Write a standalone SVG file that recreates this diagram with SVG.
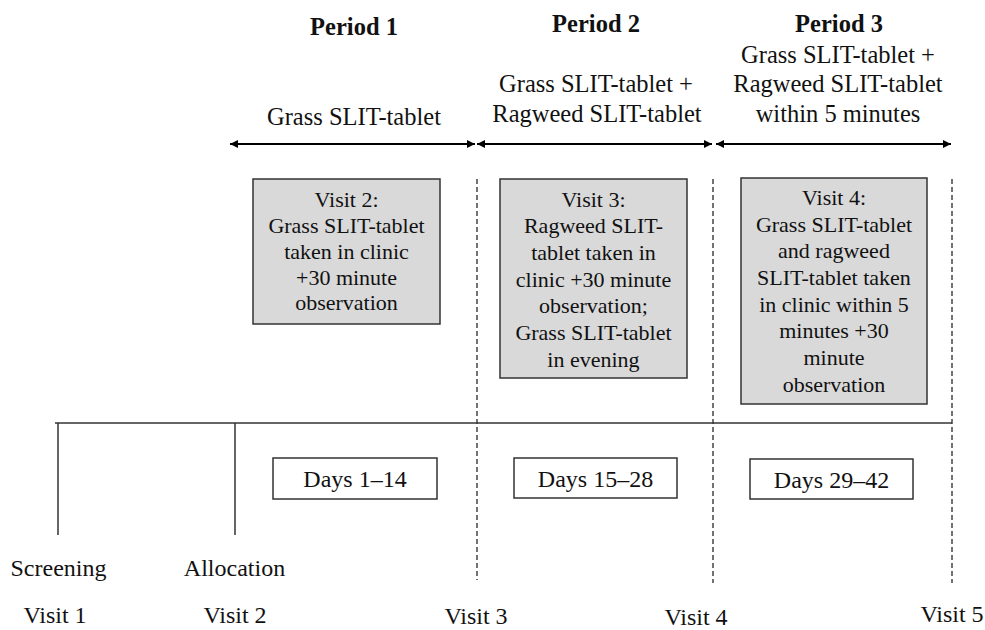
<svg xmlns="http://www.w3.org/2000/svg" width="985" height="630" viewBox="0 0 985 630">
<defs>
<marker id="ah" viewBox="0 0 10 10" refX="10" refY="5" markerWidth="10" markerHeight="8" markerUnits="userSpaceOnUse" orient="auto-start-reverse">
<path d="M0,0 L10,5 L0,10 z" fill="#000"/>
</marker>
<style>
text{fill:#111;text-anchor:middle}
.h{font-size:24.5px;font-weight:bold}
.t{font-size:24.5px}
.b{font-size:22px}
.s{font-size:24px}
.gbox{fill:#d9d9d9;stroke:#333;stroke-width:1.5}
.dbox{fill:#fff;stroke:#333;stroke-width:1.5}
.arr{stroke:#000;stroke-width:2;fill:none}
.dash{stroke:#444;stroke-width:1.5;stroke-dasharray:5 3;fill:none}
.sol{stroke:#333;stroke-width:1.5;fill:none}
</style>
</defs>
<g font-family="'Liberation Serif', Tinos, 'DejaVu Serif', 'Times New Roman', serif">
<g id="headers">
<text class="h" x="354" y="35">Period 1</text>
<text class="h" x="596" y="32">Period 2</text>
<text class="h" x="839" y="32">Period 3</text>
<text class="t" x="354" y="125">Grass SLIT-tablet</text>
<text class="t" x="596" y="92">Grass SLIT-tablet +</text>
<text class="t" x="597" y="122">Ragweed SLIT-tablet</text>
<text class="t" x="838" y="63">Grass SLIT-tablet +</text>
<text class="t" x="838" y="92">Ragweed SLIT-tablet</text>
<text class="t" x="838" y="122">within 5 minutes</text>
</g>
<g id="connectors">
<line class="arr" x1="230" y1="144" x2="475" y2="144" marker-start="url(#ah)" marker-end="url(#ah)"/>
<line class="arr" x1="477" y1="144" x2="712" y2="144" marker-start="url(#ah)" marker-end="url(#ah)"/>
<line class="arr" x1="716" y1="144" x2="951" y2="144" marker-start="url(#ah)" marker-end="url(#ah)"/>
<line class="dash" x1="477" y1="179" x2="477" y2="580"/>
<line class="dash" x1="713" y1="179" x2="713" y2="583"/>
<line class="dash" x1="952" y1="179" x2="952" y2="583"/>
<line class="sol" x1="55" y1="423" x2="952" y2="423"/>
<line class="sol" x1="58" y1="423" x2="58" y2="535"/>
<line class="sol" x1="235" y1="423" x2="235" y2="535"/>
</g>
<g id="visit2box">
<rect class="gbox" x="253" y="179" width="187" height="145"/>
<text class="b" x="346.5" y="207">Visit 2:</text>
<text class="b" x="346.5" y="233">Grass SLIT-tablet</text>
<text class="b" x="346.5" y="259">taken in clinic</text>
<text class="b" x="346.5" y="285">+30 minute</text>
<text class="b" x="346.5" y="310">observation</text>
</g>
<g id="visit3box">
<rect class="gbox" x="500" y="179" width="187" height="199"/>
<text class="b" x="593.5" y="207">Visit 3:</text>
<text class="b" x="593.5" y="233">Ragweed  SLIT-</text>
<text class="b" x="593.5" y="260">tablet taken in</text>
<text class="b" x="593.5" y="287">clinic +30 minute</text>
<text class="b" x="593.5" y="313">observation;</text>
<text class="b" x="593.5" y="340">Grass SLIT-tablet</text>
<text class="b" x="593.5" y="367">in evening</text>
</g>
<g id="visit4box">
<rect class="gbox" x="741" y="178" width="186" height="226"/>
<text class="b" x="834" y="205">Visit 4:</text>
<text class="b" x="834" y="232">Grass SLIT-tablet</text>
<text class="b" x="834" y="258">and ragweed</text>
<text class="b" x="834" y="285">SLIT-tablet taken</text>
<text class="b" x="834" y="312">in clinic within 5</text>
<text class="b" x="834" y="338">minutes +30</text>
<text class="b" x="834" y="365">minute</text>
<text class="b" x="834" y="392">observation</text>
</g>
<g id="days1">
<rect class="dbox" x="273" y="458" width="164" height="41"/>
<text class="s" x="355" y="487">Days 1–14</text>
</g>
<g id="days2">
<rect class="dbox" x="514" y="458" width="163" height="40"/>
<text class="s" x="595.5" y="487">Days 15–28</text>
</g>
<g id="days3">
<rect class="dbox" x="750" y="459" width="163" height="40"/>
<text class="s" x="831.5" y="488">Days 29–42</text>
</g>
<g id="labels">
<text class="s" x="58.5" y="576">Screening</text>
<text class="s" x="234.5" y="576">Allocation</text>
<text class="s" x="55" y="623">Visit 1</text>
<text class="s" x="235" y="623">Visit 2</text>
<text class="s" x="476" y="624">Visit 3</text>
<text class="s" x="696" y="625">Visit 4</text>
<text class="s" x="952" y="622">Visit 5</text>
</g>
</g>
</svg>
